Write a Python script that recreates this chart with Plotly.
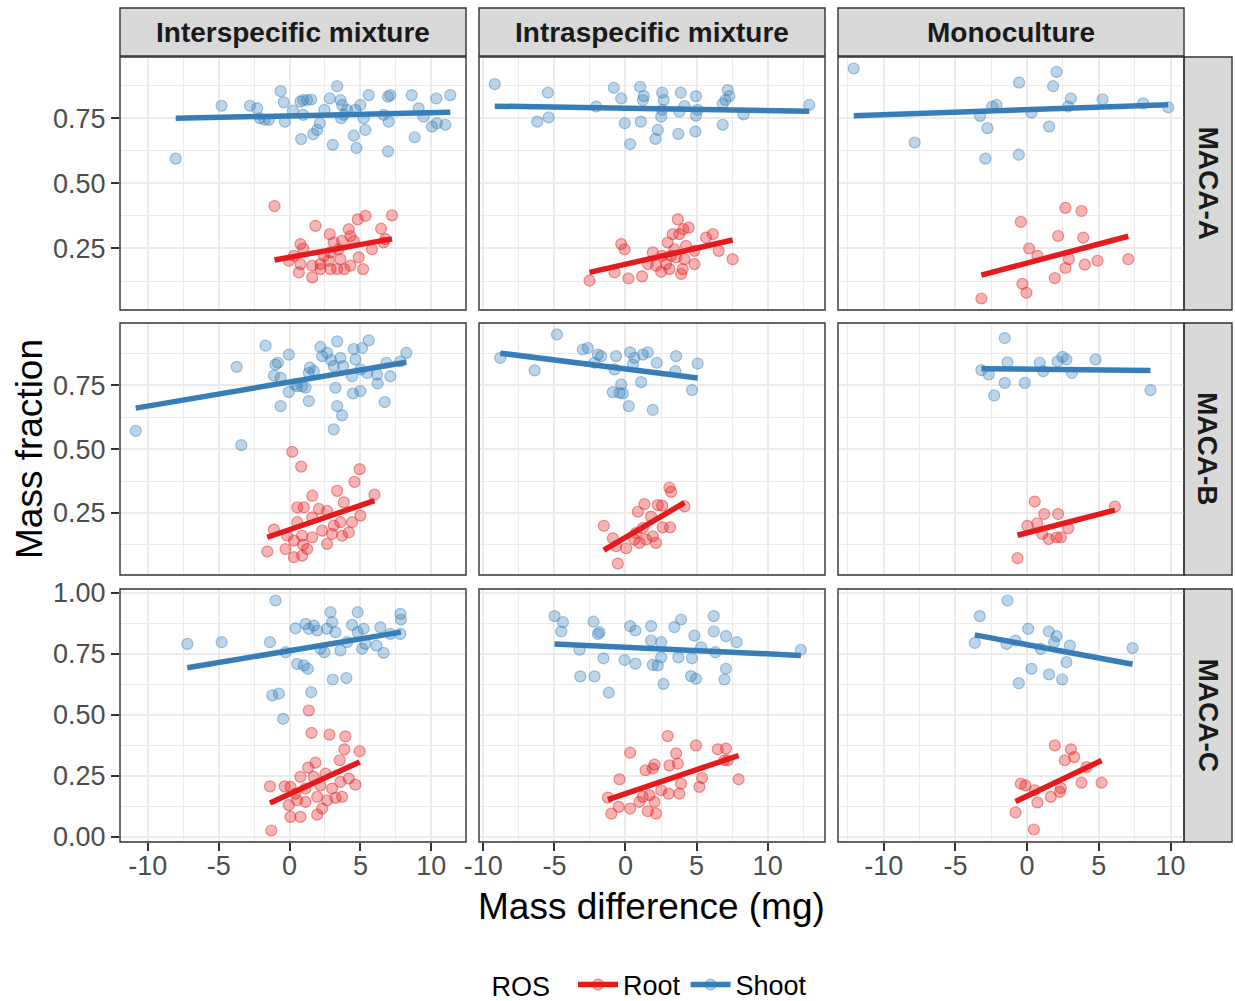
import numpy as np
import plotly.graph_objects as go

# ---------------- data (x = mass difference mg, y = mass fraction) ----------------
col_labels = ["Interspecific mixture", "Intraspecific mixture", "Monoculture"]
row_labels = ["MACA-A", "MACA-B", "MACA-C"]
ros_levels = ["Root", "Shoot"]
x_ticks = [-10, -5, 0, 5, 10]
x_tick_text = ["-10", "-5", "0", "5", "10"]

inter_A_shoot = [(-8.03,0.595),(-4.79,0.798),(-2.79,0.798),(-2.28,0.788),(-2.09,0.75),(-1.76,0.744),(-1.46,0.744),(-0.63,0.854),(-0.40,0.811),(-0.33,0.737),(0.23,0.779),(0.77,0.814),(0.96,0.82),(1.24,0.82),(1.53,0.822),(0.96,0.763),(0.82,0.67),(1.67,0.689),(1.95,0.705),(2.14,0.731),(2.46,0.782),(2.84,0.826),(3.36,0.873),(3.59,0.82),(3.71,0.801),(3.64,0.75),(3.83,0.763),(4.06,0.782),(3.05,0.648),(4.53,0.683),(4.72,0.636),(4.65,0.782),(5.0,0.801),(5.23,0.75),(5.35,0.705),(5.59,0.839),(6.64,0.763),(6.95,0.833),(7.11,0.839),(7.0,0.737),(6.95,0.623),(8.62,0.839),(8.83,0.677),(9.11,0.788),(9.46,0.756),(10.05,0.718),(10.35,0.826),(10.4,0.731),(10.99,0.725),(11.34,0.839)]
inter_A_root = [(-1.06,0.413),(1.83,0.337),(2.84,0.305),(4.18,0.324),(4.81,0.362),(5.35,0.375),(7.23,0.377),(6.46,0.326),(0.77,0.267),(0.96,0.25),(0.31,0.222),(-0.05,0.203),(0.77,0.19),(0.66,0.158),(1.6,0.139),(1.6,0.184),(2.18,0.19),(2.42,0.222),(2.89,0.235),(3.12,0.273),(3.47,0.247),(3.71,0.279),(4.3,0.298),(4.53,0.279),(3.59,0.209),(3.36,0.171),(2.89,0.171),(2.77,0.203),(4.3,0.184),(3.87,0.171),(4.88,0.216),(5.19,0.171),(5.82,0.247),(6.64,0.273),(6.76,0.286),(2.18,0.171)]
intra_A_shoot = [(-9.2,0.881),(-5.46,0.848),(-5.41,0.753),(-6.21,0.737),(-2.06,0.795),(-0.82,0.867),(-0.30,0.826),(-0.05,0.731),(0.33,0.651),(1.03,0.871),(1.29,0.835),(1.22,0.82),(1.08,0.737),(2.11,0.671),(2.27,0.705),(2.58,0.848),(2.69,0.82),(2.58,0.782),(2.51,0.756),(3.72,0.69),(3.89,0.848),(3.79,0.775),(4.15,0.797),(4.96,0.835),(5.08,0.782),(4.92,0.699),(4.96,0.76),(6.84,0.725),(7.19,0.858),(7.31,0.835),(7.03,0.82),(6.84,0.805),(8.31,0.765),(12.93,0.801)]
intra_A_root = [(-2.53,0.127),(-0.30,0.267),(-0.07,0.247),(-0.77,0.158),(0.21,0.135),(1.17,0.143),(1.92,0.235),(1.57,0.19),(2.15,0.184),(2.51,0.161),(2.86,0.19),(3.09,0.171),(2.97,0.273),(3.33,0.305),(3.68,0.362),(3.79,0.305),(4.07,0.324),(4.45,0.33),(4.26,0.26),(3.44,0.247),(3.56,0.216),(4.15,0.209),(3.91,0.152),(4.03,0.171),(4.85,0.19),(4.85,0.241),(5.67,0.292),(6.14,0.305),(6.56,0.241),(7.54,0.209),(2.58,0.222),(3.21,0.222)]
mono_A_shoot = [(-12.09,0.941),(-7.84,0.657),(-3.28,0.759),(-2.77,0.712),(-2.91,0.595),(-2.44,0.795),(-2.14,0.801),(-0.56,0.887),(-0.58,0.61),(0.30,0.772),(1.53,0.718),(1.81,0.873),(2.05,0.928),(3.05,0.826),(2.86,0.795),(5.26,0.823),(8.09,0.807),(9.84,0.792)]
mono_A_root = [(-3.19,0.058),(-0.44,0.352),(0.14,0.25),(0.72,0.222),(-0.33,0.114),(-0.05,0.08),(1.93,0.136),(2.16,0.298),(2.67,0.406),(3.79,0.394),(3.91,0.292),(2.91,0.209),(2.67,0.175),(4.02,0.188),(4.91,0.203),(7.05,0.209)]

inter_B_shoot = [(-10.85,0.572),(-3.73,0.823),(-3.40,0.516),(-1.69,0.906),(-0.99,0.832),(-0.82,0.839),(-1.10,0.789),(-0.63,0.78),(-0.63,0.669),(-0.05,0.871),(-0.05,0.724),(0.38,0.754),(0.89,0.747),(1.13,0.741),(1.36,0.689),(1.43,0.82),(1.36,0.799),(2.18,0.901),(2.30,0.865),(2.65,0.878),(2.93,0.849),(3.12,0.826),(3.36,0.923),(3.24,0.741),(3.36,0.669),(3.71,0.633),(3.12,0.578),(3.59,0.858),(3.78,0.826),(4.53,0.893),(4.65,0.852),(5.0,0.813),(4.48,0.719),(5.0,0.728),(5.12,0.897),(5.59,0.927),(5.47,0.799),(6.17,0.793),(6.22,0.758),(6.71,0.685),(6.83,0.839),(7.11,0.786),(7.82,0.845),(8.24,0.878),(4.41,0.786),(1.71,0.806),(0.54,0.747)]
inter_B_root = [(0.19,0.49),(0.82,0.432),(4.95,0.422),(4.58,0.372),(3.36,0.337),(1.6,0.318),(5.99,0.322),(3.83,0.292),(0.54,0.272),(1.01,0.272),(2.07,0.266),(2.65,0.259),(1.6,0.233),(0.54,0.214),(-1.10,0.185),(5.0,0.24),(4.41,0.214),(3.12,0.201),(3.59,0.214),(2.3,0.181),(3.0,0.168),(3.71,0.161),(4.18,0.174),(1.6,0.155),(0.89,0.161),(0.31,0.142),(-0.28,0.109),(-1.57,0.099),(0.31,0.077),(0.89,0.083),(0.96,0.125),(2.65,0.129),(1.24,0.109),(-0.16,0.161)]
intra_B_shoot = [(-8.81,0.858),(-4.82,0.950),(-6.39,0.809),(-3.0,0.891),(-2.65,0.897),(-1.94,0.871),(-1.71,0.865),(-0.66,0.865),(-0.77,0.813),(-0.30,0.754),(-0.89,0.724),(-0.42,0.721),(-0.19,0.719),(0.23,0.669),(0.33,0.88),(0.63,0.858),(1.10,0.763),(1.22,0.871),(1.57,0.88),(1.92,0.654),(2.20,0.839),(3.56,0.865),(3.51,0.806),(5.08,0.836),(4.68,0.732),(0.52,0.832),(-2.18,0.839)]
intra_B_root = [(-1.52,0.2),(-0.89,0.151),(-0.54,0.052),(-0.66,0.12),(0.05,0.112),(0.87,0.255),(1.33,0.285),(2.27,0.281),(2.58,0.279),(3.09,0.35),(3.21,0.333),(1.80,0.236),(0.75,0.172),(0.98,0.133),(1.45,0.146),(1.92,0.159),(2.15,0.133),(2.62,0.194),(3.14,0.194),(4.15,0.276),(0.63,0.146),(1.22,0.191)]
mono_B_shoot = [(-3.19,0.81),(-2.67,0.793),(-2.30,0.711),(-1.56,0.936),(-1.37,0.841),(-1.56,0.76),(-0.16,0.76),(0.88,0.839),(1.12,0.806),(2.12,0.845),(2.47,0.862),(2.74,0.852),(3.12,0.799),(4.77,0.852),(8.6,0.732)]
mono_B_root = [(-0.67,0.073),(0.53,0.295),(1.19,0.246),(2.16,0.246),(0.02,0.2),(0.70,0.21),(1.05,0.168),(1.51,0.148),(2.05,0.155),(2.35,0.155),(2.86,0.19),(6.12,0.275)]

inter_C_shoot = [(-7.21,0.791),(-4.79,0.798),(-1.38,0.798),(-0.99,0.969),(-1.22,0.58),(-0.75,0.587),(-0.45,0.484),(-0.28,0.757),(0.42,0.855),(0.54,0.709),(1.01,0.703),(1.29,0.689),(1.53,0.593),(1.13,0.873),(1.36,0.853),(1.71,0.866),(1.95,0.846),(2.18,0.771),(2.46,0.757),(2.65,0.853),(2.89,0.921),(3.0,0.88),(3.24,0.839),(3.05,0.645),(3.59,0.764),(4.01,0.651),(4.06,0.798),(4.41,0.869),(4.81,0.921),(4.81,0.839),(5.12,0.771),(5.35,0.791),(6.13,0.784),(6.64,0.754),(6.41,0.859),(7.11,0.832),(7.82,0.914),(7.86,0.891),(7.82,0.832),(5.23,0.853)]
inter_C_root = [(1.36,0.518),(1.55,0.426),(2.82,0.419),(3.94,0.412),(3.87,0.359),(4.95,0.351),(3.54,0.314),(1.83,0.304),(1.31,0.284),(0.77,0.246),(1.71,0.246),(2.54,0.259),(-1.38,0.207),(-0.35,0.207),(0.07,0.205),(0.42,0.177),(1.13,0.198),(2.18,0.211),(3.0,0.198),(3.59,0.225),(4.18,0.239),(4.65,0.214),(3.24,0.16),(3.71,0.164),(2.65,0.15),(1.95,0.164),(0.54,0.15),(1.13,0.143),(0.07,0.082),(0.77,0.082),(1.95,0.091),(2.3,0.116),(-1.29,0.026),(-0.05,0.13)]
intra_C_shoot = [(-4.99,0.905),(-4.40,0.88),(-4.52,0.842),(-3.23,0.767),(-3.18,0.658),(-2.25,0.882),(-1.83,0.839),(-1.94,0.832),(-1.55,0.732),(-2.18,0.658),(-1.17,0.591),(-0.07,0.725),(0.33,0.864),(0.70,0.846),(0.70,0.71),(1.80,0.864),(1.80,0.805),(1.92,0.705),(2.27,0.703),(2.51,0.798),(2.51,0.736),(2.67,0.627),(3.44,0.86),(3.91,0.891),(3.72,0.736),(4.68,0.732),(4.85,0.825),(4.61,0.659),(4.96,0.648),(5.32,0.777),(6.21,0.905),(6.21,0.842),(6.32,0.757),(7.07,0.823),(7.07,0.689),(6.96,0.645),(7.82,0.798),(12.34,0.767)]
intra_C_root = [(2.97,0.413),(0.33,0.345),(4.96,0.375),(6.49,0.359),(7.07,0.362),(6.96,0.314),(3.56,0.342),(2.04,0.296),(1.41,0.273),(1.92,0.28),(3.09,0.293),(3.68,0.3),(-0.42,0.236),(-1.24,0.161),(-1.0,0.095),(-0.47,0.123),(0.33,0.116),(0.98,0.143),(1.69,0.171),(1.22,0.164),(1.57,0.105),(2.15,0.095),(2.04,0.143),(2.51,0.191),(3.04,0.177),(3.79,0.177),(3.91,0.218),(5.2,0.205),(5.39,0.241),(7.96,0.236),(7.19,0.314)]
mono_C_shoot = [(-3.30,0.905),(-1.37,0.969),(-3.65,0.795),(-1.44,0.791),(-0.81,0.805),(0.07,0.853),(0.30,0.689),(-0.58,0.63),(0.95,0.771),(1.51,0.842),(2.05,0.823),(1.88,0.798),(1.53,0.666),(2.44,0.645),(2.74,0.716),(2.98,0.784),(7.35,0.774)]
mono_C_root = [(1.93,0.375),(3.05,0.359),(2.63,0.314),(3.28,0.327),(-0.44,0.218),(-0.12,0.211),(0.53,0.191),(0.72,0.141),(-0.81,0.1),(0.47,0.030),(1.65,0.164),(2.28,0.184),(2.35,0.2),(3.79,0.222),(5.19,0.222),(4.14,0.286)]

panel_data = [
    [{"Root": inter_A_root, "Shoot": inter_A_shoot}, {"Root": intra_A_root, "Shoot": intra_A_shoot}, {"Root": mono_A_root, "Shoot": mono_A_shoot}],
    [{"Root": inter_B_root, "Shoot": inter_B_shoot}, {"Root": intra_B_root, "Shoot": intra_B_shoot}, {"Root": mono_B_root, "Shoot": mono_B_shoot}],
    [{"Root": inter_C_root, "Shoot": inter_C_shoot}, {"Root": intra_C_root, "Shoot": intra_C_shoot}, {"Root": mono_C_root, "Shoot": mono_C_shoot}],
]

# ---------------- styling / layout ----------------
W, H = 1235, 1001
colors = {"Root": "#E41A1C", "Shoot": "#377EB8"}
fill_rgba = {"Root": "rgba(228,26,28,0.33)", "Shoot": "rgba(55,126,184,0.33)"}
edge_rgba = {"Root": "rgba(228,26,28,0.45)", "Shoot": "rgba(55,126,184,0.45)"}
FONT = "Liberation Sans, Arial, sans-serif"
col_px = [(120, 466), (479, 825), (838, 1184)]
row_px = [(57, 310), (323, 575), (589, 842)]
top_strip = (8, 56)
right_strip = (1184, 1232)
GRID = "#EBEBEB"
DARK = "#333333"


def px_x(p):
    return p / W


def px_y(p):
    return 1 - p / H


def expand(vals):
    lo, hi = min(vals), max(vals)
    pad = 0.05 * (hi - lo)
    return [lo - pad, hi + pad]


x_ranges = []
for c in range(3):
    xs = [p[0] for r in range(3) for ros in ros_levels for p in panel_data[r][c][ros]]
    x_ranges.append(expand(xs))
y_ranges = []
for r in range(3):
    ys = [p[1] for c in range(3) for ros in ros_levels for p in panel_data[r][c][ros]]
    y_ranges.append(expand(ys))

fig = go.Figure()
layout = {}
shapes = []
annotations = []

for r in range(3):
    for c in range(3):
        k = r * 3 + c + 1
        xa = "x" if k == 1 else f"x{k}"
        ya = "y" if k == 1 else f"y{k}"
        for ros in ros_levels:
            pts = panel_data[r][c][ros]
            fig.add_trace(go.Scatter(
                x=[p[0] for p in pts], y=[p[1] for p in pts], mode="markers",
                xaxis=xa, yaxis=ya, showlegend=False, hoverinfo="skip",
                marker=dict(size=11, color=fill_rgba[ros], line=dict(width=1.2, color=edge_rgba[ros])),
            ))
        for ros in ros_levels:
            pts = panel_data[r][c][ros]
            xs = np.array([p[0] for p in pts])
            ys = np.array([p[1] for p in pts])
            slope, icpt = np.polyfit(xs, ys, 1)
            xl = np.linspace(xs.min(), xs.max(), 40)
            fig.add_trace(go.Scatter(
                x=xl, y=slope * xl + icpt, mode="lines", xaxis=xa, yaxis=ya,
                showlegend=False, hoverinfo="skip",
                line=dict(color=colors[ros], width=5.5),
            ))
        bottom = (r == 2)
        left = (c == 0)
        layout[f"xaxis{'' if k == 1 else k}"] = dict(
            domain=[px_x(col_px[c][0]), px_x(col_px[c][1])], anchor=ya, automargin=False,
            range=x_ranges[c], tickmode="array", tickvals=x_ticks, ticktext=x_tick_text,
            showticklabels=bottom, ticks="outside" if bottom else "", ticklen=8, tickwidth=1.5,
            ticklabelstandoff=-8,
            tickcolor=DARK, tickfont=dict(size=27, color="#4D4D4D", family=FONT),
            showgrid=True, gridcolor=GRID, gridwidth=1.6, zeroline=False, showline=False,
            minor=dict(showgrid=True, gridcolor=GRID, gridwidth=1.1, tickmode="linear", tick0=0, dtick=2.5),
        )
        layout[f"yaxis{'' if k == 1 else k}"] = dict(
            domain=[px_y(row_px[r][1]), px_y(row_px[r][0])], anchor=xa, automargin=False,
            range=y_ranges[r], tickmode="linear", tick0=0, dtick=0.25, tickformat=".2f",
            showticklabels=left, ticks="outside" if left else "", ticklen=8, tickwidth=1.5,
            tickcolor=DARK, tickfont=dict(size=27, color="#4D4D4D", family=FONT),
            showgrid=True, gridcolor=GRID, gridwidth=1.6, zeroline=False, showline=False,
            minor=dict(showgrid=True, gridcolor=GRID, gridwidth=1.1, tickmode="linear", tick0=0, dtick=0.125),
        )
        shapes.append(dict(type="rect", xref=f"{xa} domain", yref=f"{ya} domain", x0=0, x1=1, y0=0, y1=1,
                           line=dict(color=DARK, width=1.4), layer="above"))

for ros in ros_levels:
    fig.add_trace(go.Scatter(
        x=[None], y=[None], mode="lines+markers", name=ros,
        line=dict(color=colors[ros], width=5.5),
        marker=dict(size=11, color=fill_rgba[ros], line=dict(width=1.2, color=edge_rgba[ros])),
    ))

for c in range(3):
    shapes.append(dict(type="rect", xref="paper", yref="paper",
                       x0=px_x(col_px[c][0]), x1=px_x(col_px[c][1]),
                       y0=px_y(top_strip[1]), y1=px_y(top_strip[0]),
                       fillcolor="#D9D9D9", line=dict(color=DARK, width=1.4), layer="below"))
    annotations.append(dict(xref="paper", yref="paper", x=px_x((col_px[c][0] + col_px[c][1]) / 2),
                            y=px_y((top_strip[0] + top_strip[1]) / 2), text=col_labels[c], showarrow=False,
                            xanchor="center", yanchor="middle",
                            font=dict(size=28, color="#1A1A1A", family=FONT, weight="bold")))
for r in range(3):
    shapes.append(dict(type="rect", xref="paper", yref="paper",
                       x0=px_x(right_strip[0]), x1=px_x(right_strip[1]),
                       y0=px_y(row_px[r][1]), y1=px_y(row_px[r][0]),
                       fillcolor="#D9D9D9", line=dict(color=DARK, width=1.4), layer="below"))
    annotations.append(dict(xref="paper", yref="paper", x=px_x((right_strip[0] + right_strip[1]) / 2),
                            y=px_y((row_px[r][0] + row_px[r][1]) / 2), text=row_labels[r], showarrow=False,
                            textangle=90, xanchor="center", yanchor="middle",
                            font=dict(size=28, color="#1A1A1A", family=FONT, weight="bold")))

annotations.append(dict(xref="paper", yref="paper", x=px_x(651), y=px_y(906), text="Mass difference (mg)",
                        showarrow=False, xanchor="center", yanchor="middle",
                        font=dict(size=37, color="black", family=FONT)))
annotations.append(dict(xref="paper", yref="paper", x=px_x(29), y=px_y(449), text="Mass fraction",
                        showarrow=False, textangle=-90, xanchor="center", yanchor="middle",
                        font=dict(size=37, color="black", family=FONT)))

fig.update_layout(
    width=W, height=H, margin=dict(l=0, r=0, t=0, b=0, autoexpand=False),
    paper_bgcolor="white", plot_bgcolor="white",
    shapes=shapes, annotations=annotations,
    legend=dict(orientation="h", x=px_x(651), xanchor="center", y=px_y(985), yanchor="middle",
                title=dict(text="ROS  ", font=dict(size=27, family=FONT, color="black")),
                font=dict(size=27, family=FONT, color="black"), itemwidth=40),
    font=dict(family=FONT),
    **layout,
)

fig.write_html("out.html")
